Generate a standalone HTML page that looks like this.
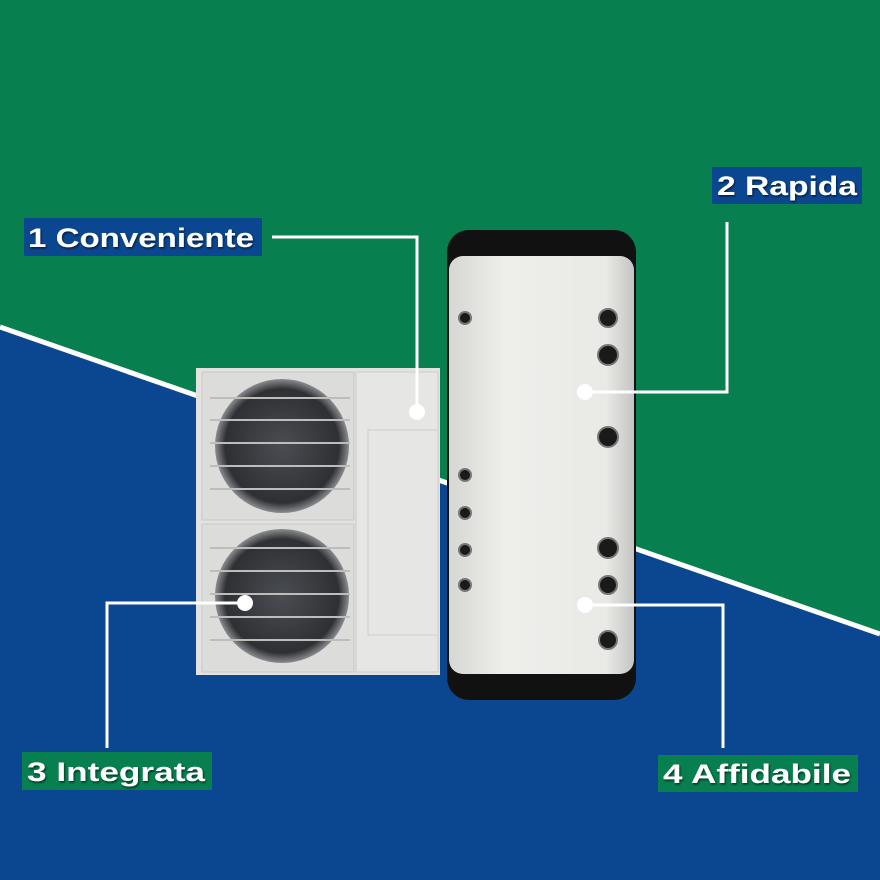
<!DOCTYPE html>
<html><head><style>body{margin:0}svg{display:block}text{font-family:"Liberation Sans",sans-serif;font-weight:bold;fill:#fff}</style></head><body>
<svg width="880" height="880" viewBox="0 0 880 880" xmlns="http://www.w3.org/2000/svg">
<defs>
<radialGradient id="fan" cx="50%" cy="50%" r="50%"><stop offset="0" stop-color="#4a4d52"/><stop offset="0.85" stop-color="#2e3034"/><stop offset="1" stop-color="#8a8c90"/></radialGradient>
<linearGradient id="tank" x1="0" x2="1"><stop offset="0" stop-color="#d6d7d3"/><stop offset="0.3" stop-color="#eeeeeb"/><stop offset="0.85" stop-color="#e9e9e6"/><stop offset="1" stop-color="#c4c5c2"/></linearGradient>
<filter id="sh"><feDropShadow dx="1" dy="1.5" stdDeviation="1" flood-color="#000" flood-opacity="0.6"/></filter>
</defs>
<rect width="880" height="880" fill="#077f4f"/>
<polygon points="0,327 880,634 880,880 0,880" fill="#0b4791"/>
<line x1="0" y1="327" x2="880" y2="634" stroke="#fff" stroke-width="5"/>
<rect x="196" y="368" width="244" height="307" fill="#e2e2e0"/>
<rect x="356" y="372" width="82" height="300" fill="#e6e6e4" stroke="#ccc"/>
<rect x="368" y="430" width="70" height="205" fill="none" stroke="#cfcfcd"/>
<rect x="202" y="372" width="152" height="148" fill="#dcdcda" stroke="#c8c8c6"/>
<rect x="202" y="524" width="152" height="148" fill="#dcdcda" stroke="#c8c8c6"/>
<circle cx="282" cy="446" r="67" fill="url(#fan)"/>
<circle cx="282" cy="596" r="67" fill="url(#fan)"/>
<g stroke="#bdbdbb" stroke-width="2">
<line x1="210" y1="398" x2="350" y2="398"/><line x1="210" y1="420" x2="350" y2="420"/><line x1="210" y1="443" x2="350" y2="443"/><line x1="210" y1="466" x2="350" y2="466"/><line x1="210" y1="489" x2="350" y2="489"/>
<line x1="210" y1="548" x2="350" y2="548"/><line x1="210" y1="571" x2="350" y2="571"/><line x1="210" y1="594" x2="350" y2="594"/><line x1="210" y1="617" x2="350" y2="617"/><line x1="210" y1="640" x2="350" y2="640"/>
</g>
<rect x="447" y="230" width="189" height="470" rx="22" fill="#111"/>
<rect x="449" y="256" width="185" height="418" rx="14" fill="url(#tank)"/>
<g fill="#1a1a1a" stroke="#777" stroke-width="2">
<circle cx="465" cy="318" r="6"/><circle cx="608" cy="318" r="9"/><circle cx="608" cy="355" r="10"/><circle cx="608" cy="437" r="10"/>
<circle cx="465" cy="475" r="6"/><circle cx="465" cy="513" r="6"/><circle cx="465" cy="550" r="6"/><circle cx="465" cy="585" r="6"/>
<circle cx="608" cy="548" r="10"/><circle cx="608" cy="585" r="9"/><circle cx="608" cy="640" r="9"/>
</g>
<g stroke="#fff" stroke-width="3" fill="none">
<polyline points="272,237 417,237 417,412"/>
<polyline points="727,222 727,392 585,392"/>
<polyline points="107,748 107,603 245,603"/>
<polyline points="723,748 723,605 585,605"/>
</g>
<g fill="#fff"><circle cx="417" cy="412" r="8"/><circle cx="585" cy="392" r="8"/><circle cx="245" cy="603" r="8"/><circle cx="585" cy="605" r="8"/></g>
<rect x="24" y="218" width="238" height="38" fill="#0b4791"/>
<text x="28" y="247" font-size="27" textLength="226" lengthAdjust="spacingAndGlyphs" filter="url(#sh)">1 Conveniente</text>
<rect x="712" y="167" width="150" height="37" fill="#0b4791"/>
<text x="717" y="195" font-size="27" textLength="140" lengthAdjust="spacingAndGlyphs" filter="url(#sh)">2 Rapida</text>
<rect x="22" y="752" width="190" height="38" fill="#077f4f"/>
<text x="27" y="781" font-size="27" textLength="178" lengthAdjust="spacingAndGlyphs" filter="url(#sh)">3 Integrata</text>
<rect x="658" y="755" width="200" height="37" fill="#077f4f"/>
<text x="663" y="783" font-size="27" textLength="188" lengthAdjust="spacingAndGlyphs" filter="url(#sh)">4 Affidabile</text>
</svg>
</body></html>
